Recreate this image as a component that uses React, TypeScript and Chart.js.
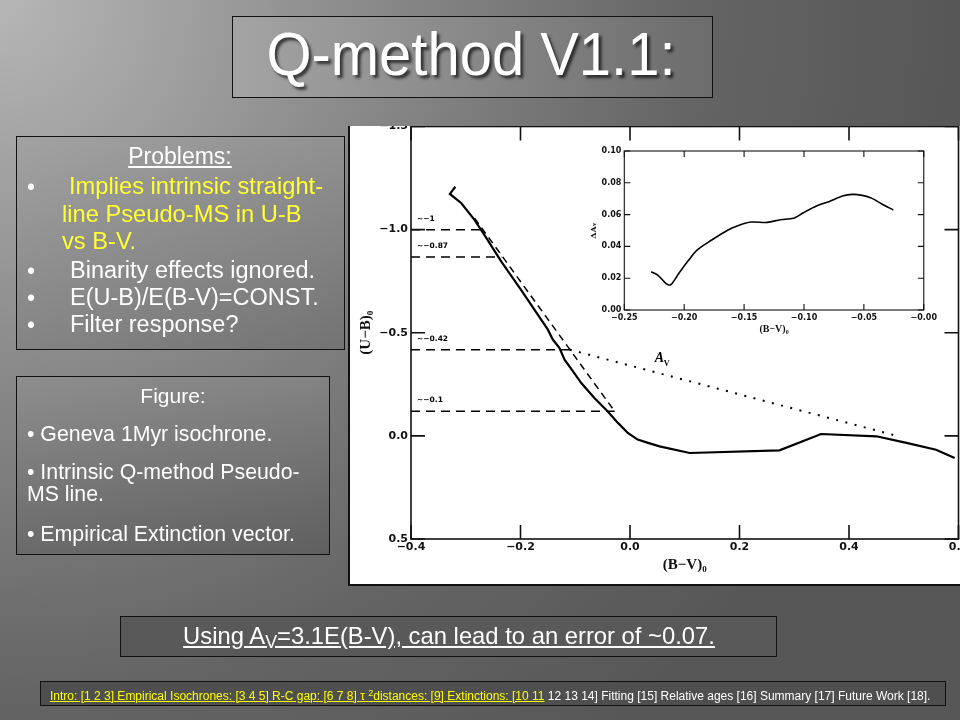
import React, { useEffect, useRef } from "react";
import { Chart, registerables } from "chart.js";
Chart.register(...registerables);

// ---------- Main plot: (B-V)0 vs (U-B)0 ----------
const isoBV = [-0.319, -0.329, -0.308, -0.284, -0.266, -0.235, -0.199, -0.150, -0.141, -0.129, -0.1195, -0.104, -0.089, -0.065, -0.041, -0.022, -0.004, 0.014, 0.033, 0.054, 0.109, 0.273, 0.349, 0.450, 0.505, 0.559, 0.593];
const isoUB = [-1.208, -1.173, -1.128, -1.047, -0.975, -0.845, -0.708, -0.515, -0.467, -0.427, -0.369, -0.313, -0.256, -0.184, -0.119, -0.063, -0.014, 0.018, 0.034, 0.051, 0.083, 0.070, -0.009, 0.002, 0.034, 0.067, 0.107];

const qLineBV = [-0.284, -0.028];
const qLineUB = [-1.056, -0.119];

const extBV = [-0.110, 0.486];
const extUB = [-0.418, -0.001];

const refLevels = [-0.999, -0.867, -0.418, -0.119];
const refEnds = [-0.264, -0.235, -0.110, -0.028];
const refLabels = ["~\u22121", "~\u22120.87", "~\u22120.42", "~\u22120.1"];

const mainXTicks = [-0.4, -0.2, 0.0, 0.2, 0.4, 0.6];
const mainXLabels = ["\u22120.4", "\u22120.2", "0.0", "0.2", "0.4", "0.6"];
const mainYTicks = [-1.5, -1.0, -0.5, 0.0, 0.5];
const mainYLabels = ["\u22121.5", "\u22121.0", "\u22120.5", "0.0", "0.5"];

const avLabelBV = 0.045;
const avLabelUB = -0.36;

// ---------- Inset: (B-V)0 vs Delta A_V ----------
const insetBV = [-0.2276, -0.2221, -0.2148, -0.2112, -0.2044, -0.1962, -0.1893, -0.1770, -0.1634, -0.1552, -0.1443, -0.1306, -0.1197, -0.1087, -0.1005, -0.0896, -0.0787, -0.0678, -0.0596, -0.0514, -0.0432, -0.0350, -0.0254];
const insetDA = [0.0241, 0.0220, 0.0164, 0.0159, 0.0231, 0.0314, 0.0377, 0.0440, 0.0503, 0.0530, 0.0553, 0.0551, 0.0568, 0.0577, 0.0612, 0.0654, 0.0683, 0.0717, 0.0727, 0.0721, 0.0702, 0.0667, 0.0629];

const insetXTicks = [-0.25, -0.20, -0.15, -0.10, -0.05, 0.0];
const insetXLabels = ["\u22120.25", "\u22120.20", "\u22120.15", "\u22120.10", "\u22120.05", "\u22120.00"];
const insetYTicks = [0.0, 0.02, 0.04, 0.06, 0.08, 0.10];
const insetYLabels = ["0.00", "0.02", "0.04", "0.06", "0.08", "0.10"];

const zip = (xs: number[], ys: number[]) => xs.map((x, i) => ({ x, y: ys[i] }));

const SANS = '"Liberation Sans", Arial, sans-serif';

function framePlugin(id: string, tickLen: number, lw: number, extra?: (chart: any) => void) {
  return {
    id,
    afterDatasetsDraw(chart: any) {
      const { ctx, chartArea: a, scales } = chart;
      const x = scales.x, y = scales.y;
      ctx.save();
      ctx.strokeStyle = "#111";
      ctx.lineWidth = lw;
      ctx.strokeRect(a.left, a.top, a.right - a.left, a.bottom - a.top);
      ctx.beginPath();
      x.ticks.forEach((t: any) => {
        const p = x.getPixelForValue(t.value);
        ctx.moveTo(p, a.bottom); ctx.lineTo(p, a.bottom - tickLen);
        ctx.moveTo(p, a.top); ctx.lineTo(p, a.top + tickLen);
      });
      y.ticks.forEach((t: any) => {
        const p = y.getPixelForValue(t.value);
        ctx.moveTo(a.left, p); ctx.lineTo(a.left + tickLen, p);
        ctx.moveTo(a.right, p); ctx.lineTo(a.right - tickLen, p);
      });
      ctx.stroke();
      if (extra) extra(chart);
      ctx.restore();
    },
  };
}

const T = ({ x, y, size, color = "#fff", children, center = false, underline = false, shadow, sx, family = SANS }: any) => (
  <div
    style={{
      position: "absolute",
      left: center ? x - 450 : x,
      width: center ? 900 : undefined,
      top: y - 0.8465 * size,
      fontSize: size,
      lineHeight: `${size}px`,
      whiteSpace: "nowrap",
      textAlign: center ? "center" : "left",
      color,
      fontFamily: family,
      textDecoration: underline ? "underline" : "none",
      textShadow: shadow,
      transform: sx ? `scaleX(${sx})` : undefined,
      transformOrigin: center ? "50% 50%" : "0 50%",
    }}
  >
    {children}
  </div>
);

export default function App() {
  const mainRef = useRef<HTMLCanvasElement>(null);
  const insetRef = useRef<HTMLCanvasElement>(null);

  useEffect(() => {
    const tickFont = { family: '"DejaVu Sans"', size: 11, weight: "bold" as const };
    const mainExtra = (chart: any) => {
      const { ctx, chartArea: a, scales } = chart;
      ctx.fillStyle = "#000";
      ctx.font = 'bold 7.5px "DejaVu Sans"';
      ctx.textAlign = "left";
      ctx.textBaseline = "alphabetic";
      refLevels.forEach((lv, i) => {
        ctx.fillText(refLabels[i], a.left + 6, scales.y.getPixelForValue(lv) - 9);
      });
      const ax = scales.x.getPixelForValue(avLabelBV);
      const ay = scales.y.getPixelForValue(avLabelUB);
      ctx.font = 'italic bold 14px "Liberation Serif"';
      ctx.fillText("A", ax, ay);
      ctx.font = 'bold 8px "Liberation Serif"';
      ctx.fillText("V", ax + 9, ay + 4);
    };

    const main = new Chart(mainRef.current!, {
      type: "line",
      data: {
        datasets: [
          { data: zip(isoBV, isoUB), borderColor: "#000", borderWidth: 2.2, pointRadius: 0, tension: 0 },
          { data: zip(qLineBV, qLineUB), borderColor: "#000", borderWidth: 1.5, borderDash: [7, 5], pointRadius: 0 },
          { data: zip(extBV, extUB), borderColor: "#000", borderWidth: 2, borderDash: [2, 7.5], pointRadius: 0 },
          ...refLevels.map((lv, i) => ({
            data: [{ x: -0.4, y: lv }, { x: refEnds[i], y: lv }],
            borderColor: "#000",
            borderWidth: 1.5,
            borderDash: [9, 6],
            pointRadius: 0,
          })),
        ],
      },
      options: {
        animation: false,
        responsive: false,
        events: [],
        layout: { padding: { top: 20.5, right: 40.5, left: 0, bottom: 0 } },
        plugins: { legend: { display: false }, tooltip: { enabled: false } },
        scales: {
          x: {
            type: "linear",
            min: -0.4,
            max: 0.6,
            afterBuildTicks: (s: any) => { s.ticks = mainXTicks.map((v) => ({ value: v })); },
            afterFit: (s: any) => { s.height = 45; },
            grid: { display: false, drawTicks: false },
            border: { display: false },
            ticks: { padding: 2, font: tickFont, color: "#111", maxRotation: 0, autoSkip: false, callback: (_v: any, i: number) => mainXLabels[i] },
            title: { display: true, text: "(B\u2212V)\u2080", font: { family: '"Liberation Serif"', size: 15, weight: "bold" }, color: "#111", padding: { top: 0, bottom: 10 } },
          },
          y: {
            type: "linear",
            min: -1.5,
            max: 0.5,
            reverse: true,
            afterBuildTicks: (s: any) => { s.ticks = mainYTicks.map((v) => ({ value: v })); },
            afterFit: (s: any) => { s.width = 62; },
            grid: { display: false, drawTicks: false },
            border: { display: false },
            ticks: { padding: 3, font: tickFont, color: "#111", autoSkip: false, callback: (_v: any, i: number) => mainYLabels[i] },
            title: { display: true, text: "(U\u2212B)\u2080", font: { family: '"Liberation Serif"', size: 15, weight: "bold" }, color: "#111", padding: { top: 8, bottom: 0 } },
          },
        },
      },
      plugins: [framePlugin("mainFrame", 14, 1.6, mainExtra)],
    } as any);

    const insetFont = { family: '"DejaVu Sans"', size: 8, weight: "bold" as const };
    const inset = new Chart(insetRef.current!, {
      type: "line",
      data: {
        datasets: [
          { data: zip(insetBV, insetDA), borderColor: "#000", borderWidth: 1.6, pointRadius: 0, tension: 0.3 },
        ],
      },
      options: {
        animation: false,
        responsive: false,
        events: [],
        layout: { padding: { top: 15, right: 10.7, left: 0, bottom: 0 } },
        plugins: { legend: { display: false }, tooltip: { enabled: false } },
        scales: {
          x: {
            type: "linear",
            min: -0.25,
            max: 0.0,
            afterBuildTicks: (s: any) => { s.ticks = insetXTicks.map((v) => ({ value: v })); },
            afterFit: (s: any) => { s.height = 26; },
            grid: { display: false, drawTicks: false },
            border: { display: false },
            ticks: { padding: 3, font: insetFont, color: "#111", maxRotation: 0, autoSkip: false, callback: (_v: any, i: number) => insetXLabels[i] },
            title: { display: true, text: "(B\u2212V)\u2080", font: { family: '"Liberation Serif"', size: 10, weight: "bold" }, color: "#111", padding: { top: 0, bottom: 1 } },
          },
          y: {
            type: "linear",
            min: 0,
            max: 0.1,
            afterBuildTicks: (s: any) => { s.ticks = insetYTicks.map((v) => ({ value: v })); },
            afterFit: (s: any) => { s.width = 44.3; },
            grid: { display: false, drawTicks: false },
            border: { display: false },
            ticks: { padding: 3, font: insetFont, color: "#111", autoSkip: false, callback: (_v: any, i: number) => insetYLabels[i] },
            title: { display: true, text: "\u0394A\u1D65", font: { family: '"DejaVu Serif"', size: 8, weight: "bold" }, color: "#111", padding: { top: 9, bottom: 0 } },
          },
        },
      },
      plugins: [framePlugin("insetFrame", 6, 1.1)],
    } as any);

    return () => {
      main.destroy();
      inset.destroy();
    };
  }, []);

  return (
    <div
      style={{
        position: "fixed",
        left: 0,
        top: 0,
        width: 960,
        height: 720,
        overflow: "hidden",
        background: "radial-gradient(circle at 0px 0px, #b6b6b6 0px, #8e8e8e 330px, #646464 700px, #575757 950px)",
        fontFamily: SANS,
      }}
    >
      {/* Title box */}
      <div style={{ position: "absolute", left: 232, top: 16, width: 481, height: 82, boxSizing: "border-box", border: "1px solid #111", background: "linear-gradient(90deg, #a4a4a4, #6c6c6c)" }} />
      <T x={471} y={76} size={61} sx={0.95} center shadow="3px 3px 3px rgba(0,0,0,0.65)">Q-method V1.1:</T>

      {/* Problems box */}
      <div style={{ position: "absolute", left: 16, top: 136, width: 329, height: 214, boxSizing: "border-box", border: "1px solid #111", background: "linear-gradient(160deg, #a2a2a2, #737373)" }} />
      <T x={180} y={164} size={23} center underline>Problems:</T>
      <T x={27} y={195} size={23}>•</T>
      <T x={69} y={195} size={23.7} color="#ffff33">Implies intrinsic straight-</T>
      <T x={62} y={223} size={23.7} color="#ffff33">line Pseudo-MS in U-B</T>
      <T x={62} y={250} size={23.7} color="#ffff33">vs B-V.</T>
      <T x={27} y={279} size={23}>•</T>
      <T x={70} y={279} size={23.5}>Binarity effects ignored.</T>
      <T x={27} y={306} size={23}>•</T>
      <T x={70} y={306} size={23.5}>E(U-B)/E(B-V)=CONST.</T>
      <T x={27} y={333} size={23}>•</T>
      <T x={70} y={333} size={23.5}>Filter response?</T>

      {/* Figure box */}
      <div style={{ position: "absolute", left: 16, top: 376, width: 314, height: 179, boxSizing: "border-box", border: "1px solid #111", background: "linear-gradient(170deg, #8e8e8e, #5f5f5f)" }} />
      <T x={173} y={403} size={21} center>Figure:</T>
      <T x={27} y={442} size={21.3}>• Geneva 1Myr isochrone.</T>
      <T x={27} y={480} size={21.3}>• Intrinsic Q-method Pseudo-</T>
      <T x={27} y={502} size={21.3}>MS line.</T>
      <T x={27} y={542} size={21.3}>• Empirical Extinction vector.</T>

      {/* Chart image area */}
      <div style={{ position: "absolute", left: 349, top: 126, width: 611, height: 458, background: "#fff", overflow: "hidden" }}>
        <canvas ref={mainRef} width={650} height={478} style={{ position: "absolute", left: 0, top: -20, width: 650, height: 478 }} />
        <canvas ref={insetRef} width={360} height={200} style={{ position: "absolute", left: 231, top: 10, width: 360, height: 200 }} />
      </div>
      <div style={{ position: "absolute", left: 348, top: 126, width: 2, height: 460, background: "#111" }} />
      <div style={{ position: "absolute", left: 348, top: 584, width: 612, height: 2, background: "#111" }} />

      {/* Using box */}
      <div style={{ position: "absolute", left: 120, top: 616, width: 657, height: 41, boxSizing: "border-box", border: "1px solid #111", background: "#595959" }} />
      <T x={449} y={644} size={23.8} center underline>
        Using A<span style={{ fontSize: "0.75em", verticalAlign: "-0.25em" }}>V</span>=3.1E(B-V), can lead to an error of ~0.07.
      </T>

      {/* Navigation bar */}
      <div style={{ position: "absolute", left: 40, top: 681, width: 906, height: 25, boxSizing: "border-box", border: "1px solid #111", background: "#4f4f4f" }} />
      <T x={50} y={697} size={12}>
        <span style={{ color: "#ffff00", textDecoration: "underline" }}>
          Intro: [1 2 3] Empirical Isochrones: [3 4 5] R-C gap: [6 7 8] τ <span style={{ fontSize: "0.75em", verticalAlign: "0.45em" }}>2</span>distances: [9] Extinctions: [10 11
        </span>
        <span style={{ color: "#fff" }}> 12 13 14] Fitting [15] Relative ages [16] Summary [17] Future Work [18].</span>
      </T>
    </div>
  );
}
